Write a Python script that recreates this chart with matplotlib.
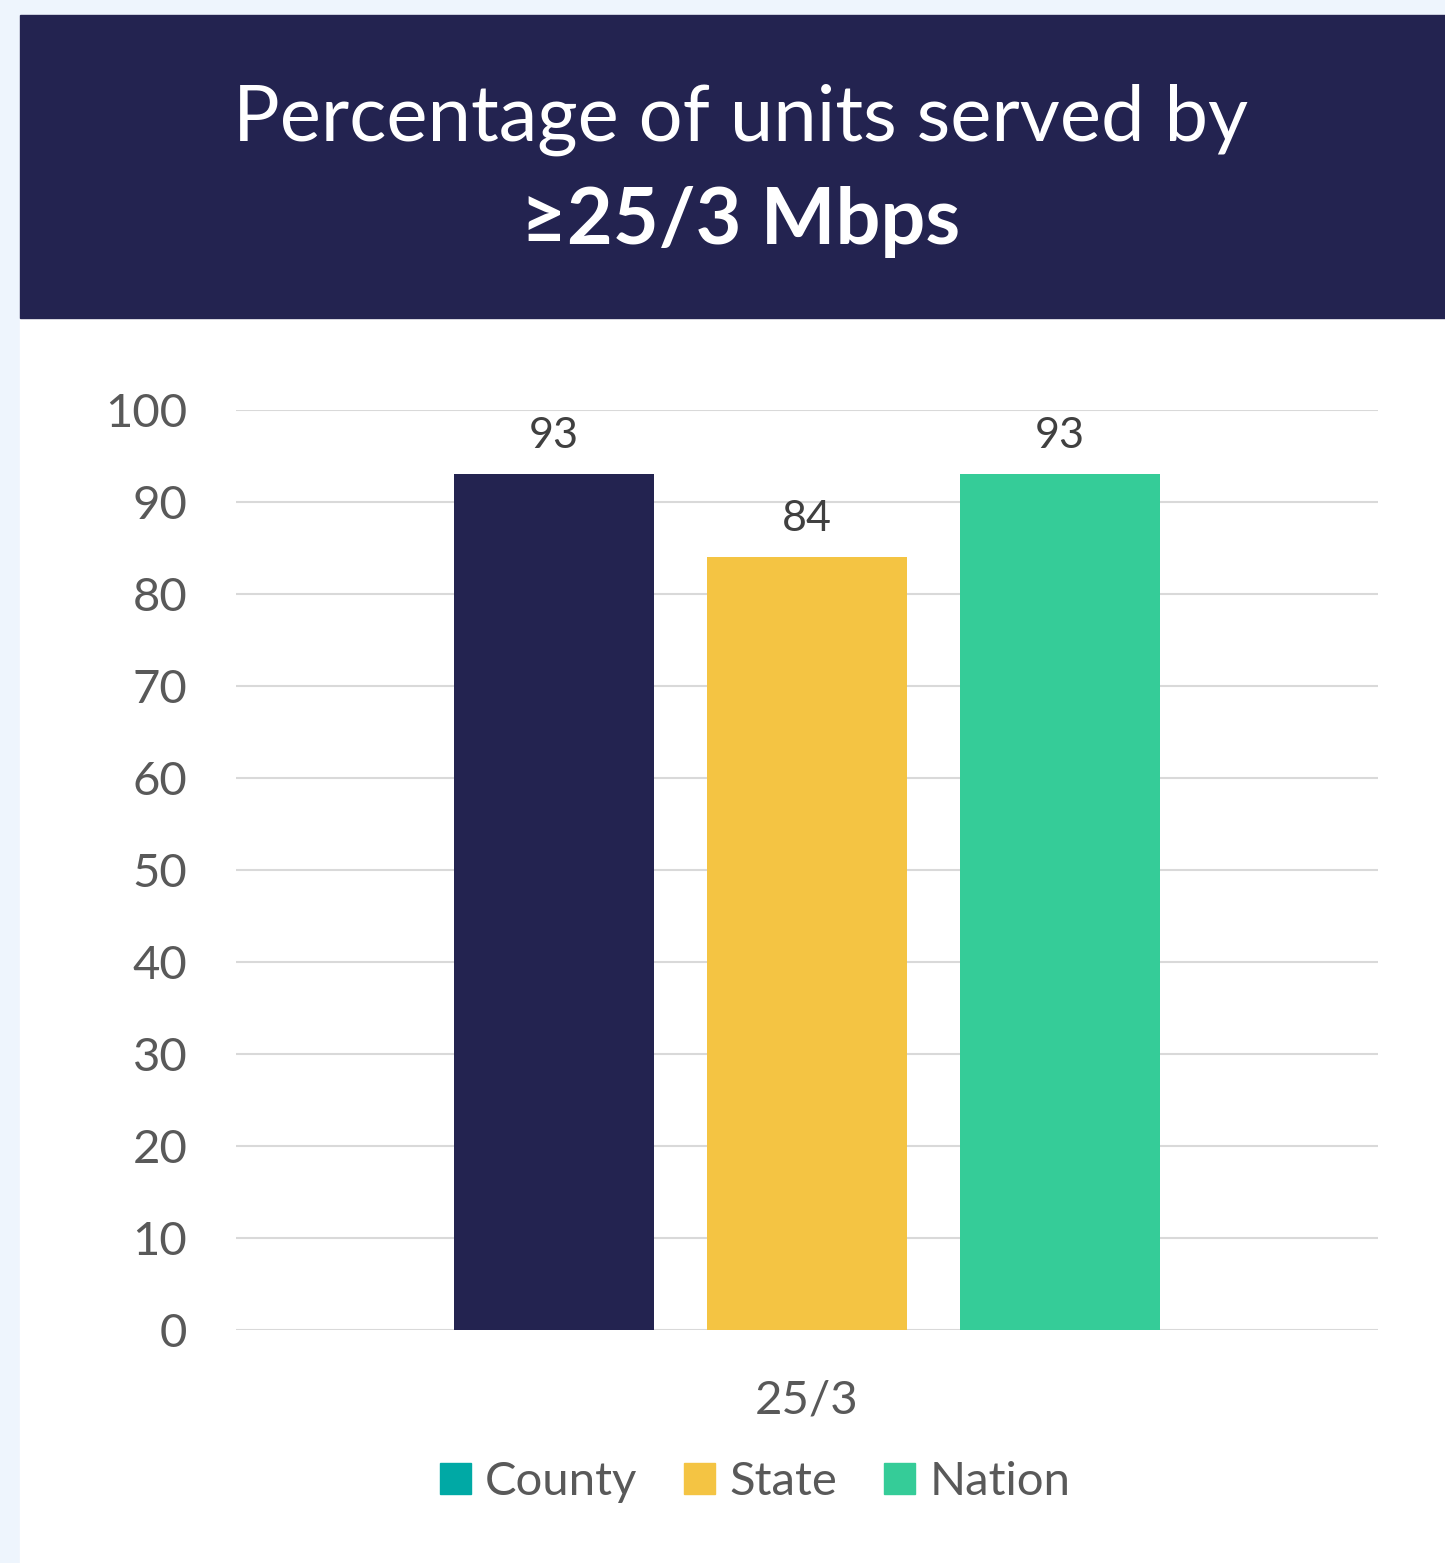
import matplotlib
matplotlib.use("Agg")
import matplotlib.pyplot as plt
import matplotlib.patches as mpatches
import numpy as np

plt.rcParams['font.family'] = ['Lato', 'DejaVu Sans']

category = "25/3"
series = ["County", "State", "Nation"]
values = [93, 84, 93]
bar_colors = ["#232350", "#F4C443", "#35CC98"]
legend_colors = ["#00A9A5", "#F4C443", "#35CC98"]
yticks = [0, 10, 20, 30, 40, 50, 60, 70, 80, 90, 100]

text_grey = "#595959"

fig = plt.figure(figsize=(14.45, 15.63), dpi=100)
fig.patch.set_facecolor("#EEF5FD")

# white card and navy title banner
W, H = 1445, 1563
fig.add_artist(mpatches.Rectangle((20 / W, 0), 1 - 20 / W, 1 - 15 / H,
                                  transform=fig.transFigure, color="white", zorder=0))
fig.add_artist(mpatches.Rectangle((20 / W, 1 - 318 / H), 1 - 20 / W, (318 - 15) / H,
                                  transform=fig.transFigure, color="#232350", zorder=1))
fig.text(741 / W, 1 - 120 / H, "Percentage of units served by", color="white",
         fontsize=56, ha="center", va="center", zorder=2)
fig.text(741 / W, 1 - 222 / H, "≥25/3 Mbps", color="white", fontsize=57,
         fontweight="bold", ha="center", va="center", zorder=2)

ax = fig.add_axes([236 / W, 1 - 1330 / H, (1378 - 236) / W, (1330 - 410) / H])
ax.set_facecolor("none")

bar_w = 200 / 1142
offsets = np.array([-1, 0, 1]) * 253 / 1142
bars = ax.bar(offsets, values, bar_w, color=bar_colors, zorder=3)
for b, v in zip(bars, values):
    ax.annotate(str(v), (b.get_x() + b.get_width() / 2, v), xytext=(0, 14),
                textcoords="offset points", ha="center", va="bottom",
                fontsize=31, color="#404040")

ax.set_xlim(-0.5, 0.5)
ax.set_ylim(0, 100)
ax.set_yticks(yticks)
ax.yaxis.grid(True, color="#D9D9D9", linewidth=1.5, zorder=0)
ax.set_axisbelow(True)
ax.set_xticks([0])
ax.set_xticklabels([category])
ax.tick_params(axis="y", length=0, pad=35, labelsize=34, labelcolor=text_grey)
ax.tick_params(axis="x", length=0, pad=36, labelsize=34, labelcolor=text_grey)
for s in ax.spines.values():
    s.set_visible(False)

handles = [mpatches.Patch(color=c, label=s) for s, c in zip(series, legend_colors)]
fig.legend(handles=handles, loc="center", bbox_to_anchor=(755 / W, 1 - 1482 / H),
           ncol=3, frameon=False, fontsize=34, labelcolor=text_grey,
           handlelength=0.65, handleheight=0.65, handletextpad=0.3, columnspacing=1.0)

fig.savefig("out.png", dpi=100, facecolor=fig.get_facecolor())
